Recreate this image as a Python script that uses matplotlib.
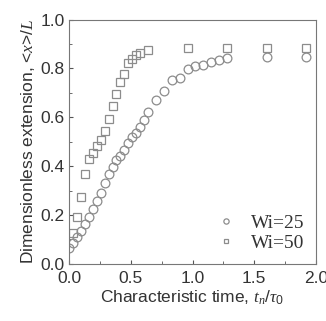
import numpy as np
import matplotlib.pyplot as plt
from matplotlib.ticker import MultipleLocator

# Wi=25 (circles)
t25 = [0.0, 0.032, 0.064, 0.096, 0.128, 0.16, 0.192, 0.224, 0.256, 0.288, 0.32,
       0.352, 0.384, 0.416, 0.448, 0.48, 0.512, 0.544, 0.576, 0.608, 0.64,
       0.704, 0.768, 0.832, 0.896, 0.96, 1.024, 1.088, 1.152, 1.216, 1.28, 1.6, 1.92]
x25 = [0.064, 0.087, 0.109, 0.135, 0.163, 0.193, 0.223, 0.257, 0.29, 0.332, 0.366,
       0.398, 0.425, 0.441, 0.466, 0.493, 0.52, 0.537, 0.561, 0.589, 0.62,
       0.67, 0.708, 0.752, 0.759, 0.796, 0.809, 0.816, 0.827, 0.834, 0.841, 0.847, 0.847]
# Wi=50 (squares)
t50 = [0.032, 0.064, 0.096, 0.128, 0.16, 0.192, 0.224, 0.256, 0.288, 0.32, 0.352,
       0.384, 0.416, 0.448, 0.48, 0.512, 0.544, 0.576, 0.64, 0.96, 1.28, 1.6, 1.92]
x50 = [0.125, 0.19, 0.273, 0.367, 0.428, 0.455, 0.482, 0.507, 0.543, 0.591, 0.648,
       0.696, 0.743, 0.778, 0.822, 0.838, 0.856, 0.865, 0.874, 0.883, 0.883, 0.883, 0.883]

plt.rcParams['font.family'] = ['Liberation Sans', 'DejaVu Sans']
plt.rcParams['mathtext.fontset'] = 'custom'
plt.rcParams['mathtext.it'] = 'Liberation Serif:italic'
plt.rcParams['mathtext.rm'] = 'Liberation Sans'

fig = plt.figure(figsize=(3.26, 3.21), dpi=100)
ax = fig.add_axes([0.212, 0.178, 0.757, 0.761])

gray = '#8c8c8c'
ax.plot(t25, x25, 'o', ms=6.3, mfc='none', mec=gray, mew=0.9, label='Wi=25')
ax.plot(t50, x50, 's', ms=5.7, mfc='none', mec=gray, mew=0.9, label='Wi=50')

ax.set_xlim(0, 2.0)
ax.set_ylim(0, 1.0)
ax.xaxis.set_major_locator(MultipleLocator(0.5))
ax.xaxis.set_minor_locator(MultipleLocator(0.25))
ax.yaxis.set_major_locator(MultipleLocator(0.2))
ax.yaxis.set_minor_locator(MultipleLocator(0.1))
ax.tick_params(which='both', direction='in', colors='#555555', labelcolor='#333333',
               labelsize=12.5)
ax.tick_params(which='major', length=3)
ax.tick_params(which='minor', length=2)
ax.tick_params(axis='x', which='major', pad=5)
ax.tick_params(axis='y', which='major', pad=3)
for s in ax.spines.values():
    s.set_color('#777777')

ax.set_xlabel(r'Characteristic time, $t_n/\tau_0$', fontsize=12.5, color='#333333', labelpad=2)
ax.set_ylabel(r'Dimensionless extension, <$x$>/$L$', fontsize=12.5, color='#333333', labelpad=3)

leg = ax.legend(loc='lower right', frameon=False, markerscale=0.6, handletextpad=0.5,
                prop={'family': 'Liberation Serif', 'size': 14}, borderaxespad=0.2,
                labelspacing=0.15, handlelength=1.5)
for t in leg.get_texts():
    t.set_color('#333333')

fig.savefig('out.png', dpi=100)
